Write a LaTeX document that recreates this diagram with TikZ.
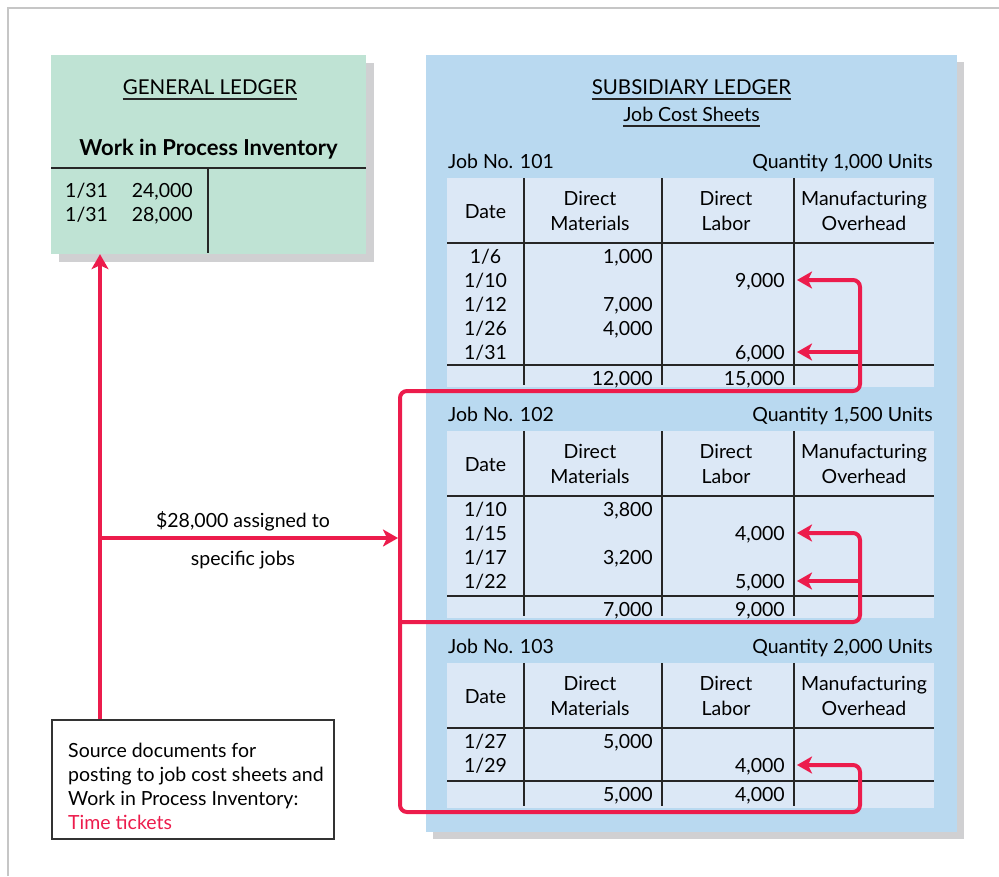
\documentclass[tikz,border=0pt]{standalone}
\usepackage{fontspec}
\setmainfont{Lato}
\usetikzlibrary{arrows.meta}
\definecolor{glgreen}{RGB}{191,227,212}
\definecolor{slblue}{RGB}{185,217,240}
\definecolor{tblfill}{RGB}{220,232,246}
\definecolor{shadowc}{RGB}{208,208,210}
\definecolor{framec}{RGB}{198,198,198}
\definecolor{postred}{RGB}{236,28,76}

\newcommand\jobsheet[8]{% #1 id, #2 top, #3 job no, #4 qty, #5 total line y, #6 bottom y, #7 DM total, #8 DL total
  \fill[tblfill] (447,#2) rectangle (934,#6);
  \node[txtl] (#1-no) at (448,{#2-10}) {Job No. #3};
  \node[txtr] (#1-qty) at (933,{#2-10}) {Quantity #4 Units};
  \draw[rule] (447,{#2+65}) -- (934,{#2+65});
  \draw[rule] (447,#5) -- (934,#5);
  \foreach \cx in {524,662,794} \draw[rule] (\cx,#2) -- (\cx,{#6-2});
  \node[txt] (#1-hd) at (485.5,{#2+40}) {Date};
  \node[txt] (#1-hm1) at (590,{#2+27}) {Direct};
  \node[txt] (#1-hm2) at (590,{#2+52}) {Materials};
  \node[txt] (#1-hl1) at (726,{#2+27}) {Direct};
  \node[txt] (#1-hl2) at (726,{#2+52}) {Labor};
  \node[txt] (#1-ho1) at (864,{#2+27}) {Manufacturing};
  \node[txt] (#1-ho2) at (864,{#2+52}) {Overhead};
  \node[txtr] (#1-tm) at (653,{#5+20}) {#7};
  \node[txtr] (#1-tl) at (785,{#5+20}) {#8};
}
\newcommand\jd[3]{\node[txt] (#1) at (485.5,#2) {#3};}
\newcommand\jm[3]{\node[txtr] (#1) at (653,#2) {#3};}
\newcommand\jl[3]{\node[txtr] (#1) at (785,#2) {#3};}

\begin{document}
\begin{tikzpicture}[x=1pt,y=-1pt,
  every node/.style={inner sep=0pt, font=\fontsize{19.5}{23}\selectfont},
  txt/.style={anchor=base},
  txtl/.style={anchor=base west},
  txtr/.style={anchor=base east},
  titletxt/.style={anchor=base, font=\fontsize{20.5}{24}\selectfont},
  rule/.style={line width=1.3pt, draw=black!85},
  uline/.style={line width=1.2pt, draw=black!85},
  post/.style={draw=postred, line width=4pt, rounded corners=7pt},
  >={Stealth[length=15pt,width=17pt,inset=4pt]}
]
\useasboundingbox (0,0) rectangle (999,876);
\draw[framec, line width=2pt] (8,876) -- (8,8) -- (999,8);

% general ledger
\fill[shadowc] (59,63) rectangle (374,262);
\node[fill=glgreen, minimum width=315pt, minimum height=199pt] (glbox) at (208.5,154.5) {};
\node[titletxt] (glt) at (210,94) {GENERAL LEDGER};
\draw[uline] ([yshift=-5pt]glt.base west) -- ([yshift=-5pt]glt.base east);
\node[txt, font=\fontsize{22}{26}\selectfont\bfseries] (wip) at (208.5,155) {Work in Process Inventory};
\draw[rule] (51,168) -- (366,168);
\draw[rule] (208,168) -- (208,253);
\node[txtl] (gd1) at (65,197) {1/31};
\node[txtr] (ga1) at (193,197) {24,000};
\node[txtl] (gd2) at (65,221) {1/31};
\node[txtr] (ga2) at (193,221) {28,000};

% subsidiary ledger
\fill[shadowc] (433,62) rectangle (964,839);
\node[fill=slblue, minimum width=531pt, minimum height=777pt] (slbox) at (691.5,443.5) {};
\node[titletxt] (slt) at (691.5,94) {SUBSIDIARY LEDGER};
\draw[uline] ([yshift=-5pt]slt.base west) -- ([yshift=-5pt]slt.base east);
\node[txt] (jcs) at (691.5,121) {Job Cost Sheets};
\draw[uline] ([yshift=-5pt]jcs.base west) -- ([yshift=-5pt]jcs.base east);

\jobsheet{j1}{178}{101}{1,000}{365}{387}{12,000}{15,000}
\jd{j1d1}{263}{1/6}  \jm{j1m1}{263}{1,000}
\jd{j1d2}{287}{1/10} \jl{j1l2}{287}{9,000}
\jd{j1d3}{311}{1/12} \jm{j1m3}{311}{7,000}
\jd{j1d4}{335}{1/26} \jm{j1m4}{335}{4,000}
\jd{j1d5}{359}{1/31} \jl{j1l5}{359}{6,000}

\jobsheet{j2}{431}{102}{1,500}{596}{618}{7,000}{9,000}
\jd{j2d1}{516}{1/10} \jm{j2m1}{516}{3,800}
\jd{j2d2}{540}{1/15} \jl{j2l2}{540}{4,000}
\jd{j2d3}{564}{1/17} \jm{j2m3}{564}{3,200}
\jd{j2d4}{588}{1/22} \jl{j2l4}{588}{5,000}

\jobsheet{j3}{663}{103}{2,000}{781}{808}{5,000}{4,000}
\jd{j3d1}{748}{1/27} \jm{j3m1}{748}{5,000}
\jd{j3d2}{772}{1/29} \jl{j3l2}{772}{4,000}

% source documents box
\node[draw=black!80, line width=1.3pt, minimum width=282pt, minimum height=119pt] (src) at (193,779.5) {};
\node[txtl] (s1) at (68,757) {Source documents for};
\node[txtl] (s2) at (68,781) {posting to job cost sheets and};
\node[txtl] (s3) at (68,805) {Work in Process Inventory:};
\node[txtl, text=postred] (s4) at (68,829) {Time tickets};

% assignment label
\node[txt] (lab1) at (243,527) {\$28,000 assigned to};
\node[txt] (lab2) at (243,565) {specific jobs};

% red posting connectors
\coordinate (jct) at (100,538);
\coordinate (hin) at (398,538);
\coordinate (tip1a) at (797,280);
\coordinate (tip1b) at (797,352);
\coordinate (tip2a) at (797,533);
\coordinate (tip2b) at (797,581);
\coordinate (tip3a) at (797,765);

\draw[post,->] (src.north -| jct) -- (glbox.south -| jct);
\draw[post,->] (jct) -- (hin);
\draw[post,<->] (tip1a) -- (860,280) -- (860,391) -- (400,391) -- (400,812) -- (860,812) -- (860,765) -- (tip3a);
\draw[post,->] (860,352) -- (tip1b);
\draw[post,->] (400,622) -- (860,622) -- (860,533) -- (tip2a);
\draw[post,->] (860,581) -- (tip2b);
\end{tikzpicture}
\end{document}
